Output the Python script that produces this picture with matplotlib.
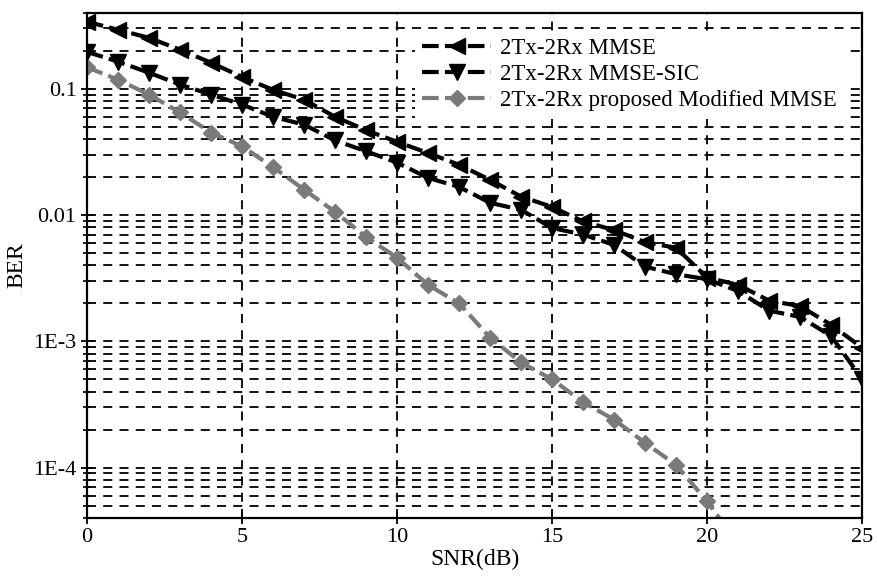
import matplotlib
matplotlib.use("Agg")
import matplotlib.pyplot as plt
from matplotlib.ticker import FixedLocator, FixedFormatter, LogLocator, NullFormatter

plt.rcParams['font.family'] = ['Liberation Serif', 'DejaVu Serif']

snr = list(range(0, 26))
snr_mod = list(range(0, 22))

ber_mmse = [0.340, 0.293, 0.253, 0.204, 0.161, 0.124, 0.098, 0.082, 0.060, 0.047,
            0.038, 0.031, 0.025, 0.019, 0.014, 0.0116, 0.0089, 0.0076, 0.0061, 0.0055,
            0.0032, 0.0028, 0.0021, 0.0019, 0.00135, 0.00089]
ber_sic = [0.196, 0.164, 0.134, 0.108, 0.090, 0.075, 0.060, 0.052, 0.039, 0.032,
           0.026, 0.0197, 0.0167, 0.0125, 0.011, 0.0079, 0.0070, 0.0058, 0.0039, 0.0034,
           0.0031, 0.0025, 0.00175, 0.00156, 0.0011, 0.0005]
ber_mod = [0.148, 0.118, 0.090, 0.065, 0.045, 0.035, 0.024, 0.0159, 0.0106, 0.0067,
           0.0046, 0.0028, 0.0020, 0.00107, 0.00068, 0.00050, 0.00033, 0.00024, 0.000157,
           0.000105, 0.000054, 0.000025]

names = ['2Tx-2Rx MMSE', '2Tx-2Rx MMSE-SIC', '2Tx-2Rx proposed Modified MMSE']
ytick_vals = [1e-4, 1e-3, 1e-2, 1e-1]
ytick_labels = ['1E-4', '1E-3', '0.01', '0.1']

fig = plt.figure(figsize=(8.78, 5.78), dpi=100)
ax = fig.add_axes([0.099, 0.104, 0.883, 0.874])

ax.semilogy(snr, ber_mmse, color='black', lw=3, ls=(0, (4, 1.5)), marker='<',
            ms=12, label=names[0])
ax.semilogy(snr, ber_sic, color='black', lw=3, ls=(0, (4, 1.5)), marker='v',
            ms=12, label=names[1])
ax.semilogy(snr_mod, ber_mod, color='#7a7a7a', lw=3, ls=(0, (4, 1.5)), marker='D',
            ms=8.5, label=names[2])

ax.set_xlim(0, 25)
ax.set_ylim(4e-5, 0.4)
ax.set_xticks([0, 5, 10, 15, 20, 25])
ax.yaxis.set_major_locator(FixedLocator(ytick_vals))
ax.yaxis.set_major_formatter(FixedFormatter(ytick_labels))
ax.yaxis.set_minor_locator(LogLocator(base=10, subs=range(2, 10)))
ax.yaxis.set_minor_formatter(NullFormatter())

ax.grid(True, which='both', axis='y', color='black', ls=(0, (5, 4)), lw=1.3)
ax.grid(True, which='major', axis='x', color='black', ls=(0, (5, 4)), lw=1.3)

ax.tick_params(axis='both', which='major', labelsize=16, direction='inout',
               length=8, width=1.3, color='black')
ax.tick_params(axis='y', which='minor', direction='inout', length=6, width=1.2)
for s in ax.spines.values():
    s.set_linewidth(1.6)
    s.set_color('black')

ax.set_xlabel('SNR(dB)', fontsize=17, labelpad=1)
ax.set_ylabel('BER', fontsize=17, labelpad=4)

leg = ax.legend(loc='upper right', fontsize=16.5, frameon=True, framealpha=1,
                edgecolor='none', fancybox=False, handlelength=3.0,
                borderaxespad=0.8, labelspacing=0.22, handletextpad=0.4,
                borderpad=0.3)

fig.savefig('out.png', dpi=100)
